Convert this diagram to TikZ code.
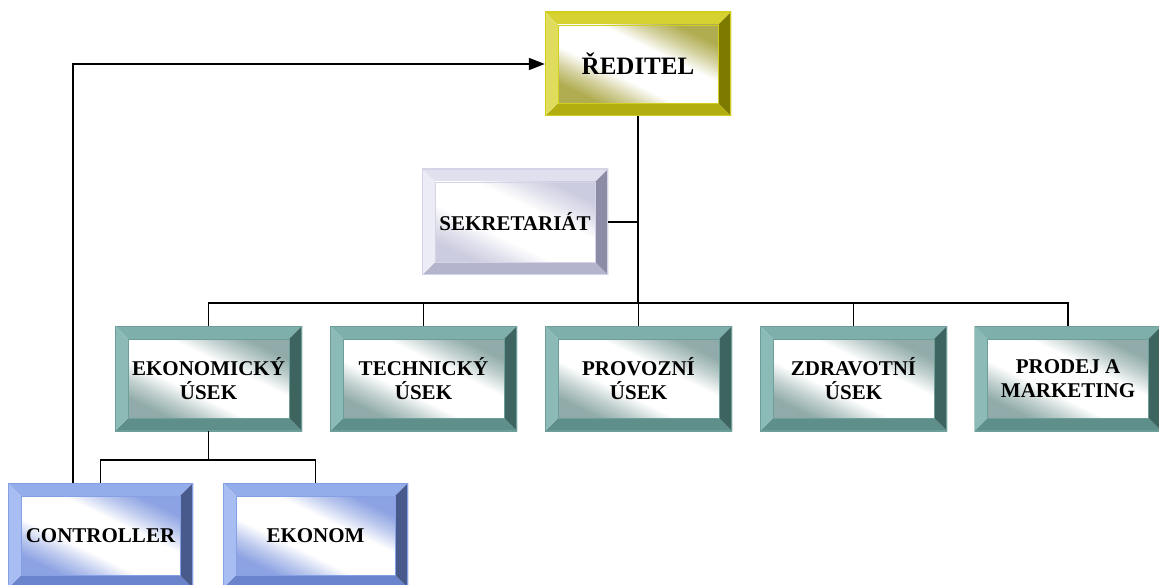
\documentclass[tikz,border=0pt]{standalone}
\usepackage{fontspec}
\setmainfont{Liberation Serif}
\usetikzlibrary{arrows.meta}
% yellow
\definecolor{yT}{HTML}{D6D232}\definecolor{yL}{HTML}{E0DD5C}\definecolor{yR}{HTML}{7E7A00}\definecolor{yB}{HTML}{B2AE10}\definecolor{yG}{HTML}{B0AC50}\definecolor{yO}{HTML}{D2CE20}
% teal
\definecolor{tT}{HTML}{7EAFAB}\definecolor{tL}{HTML}{8CBAB6}\definecolor{tR}{HTML}{3E6460}\definecolor{tB}{HTML}{5E8F8B}\definecolor{tG}{HTML}{90ABA9}\definecolor{tO}{HTML}{6E9E9A}
% blue
\definecolor{bT}{HTML}{93ACEA}\definecolor{bL}{HTML}{A8BDF2}\definecolor{bR}{HTML}{485A8C}\definecolor{bB}{HTML}{6A84CC}\definecolor{bG}{HTML}{8CA2E2}\definecolor{bO}{HTML}{85A0E4}
% lavender
\definecolor{lT}{HTML}{E0E0EE}\definecolor{lL}{HTML}{ECECF6}\definecolor{lR}{HTML}{8C8CA6}\definecolor{lB}{HTML}{B4B4CC}\definecolor{lG}{HTML}{CCCCE0}\definecolor{lO}{HTML}{D4D4E6}
\newcommand\mkbevshade[1]{%
  \pgfdeclarehorizontalshading{#1sh}{100bp}{color(0bp)=(#1G); color(25bp)=(#1G); color(33bp)=(#1G!55!white); color(41bp)=(white); color(59bp)=(white); color(67bp)=(#1G!55!white); color(75bp)=(#1G); color(100bp)=(#1G)}}
\mkbevshade{y}\mkbevshade{t}\mkbevshade{b}\mkbevshade{l}
\tikzset{
  bevelbox/.style={rectangle, minimum width=187pt, minimum height=105pt, inner sep=0pt,
    align=center, text=black, font=\fontsize{21}{24}\selectfont\bfseries,
    path picture={
      \coordinate (@nw) at (path picture bounding box.north west);
      \coordinate (@se) at (path picture bounding box.south east);
      \coordinate (@ne) at (@se |- @nw);
      \coordinate (@sw) at (@nw |- @se);
      \fill[#1T] (@nw) -- (@ne) -- ([xshift=-13pt,yshift=-13pt]@ne) -- ([xshift=13pt,yshift=-13pt]@nw) -- cycle;
      \fill[#1B] (@sw) -- (@se) -- ([xshift=-13pt,yshift=13pt]@se) -- ([xshift=13pt,yshift=13pt]@sw) -- cycle;
      \fill[#1L] (@nw) -- (@sw) -- ([xshift=13pt,yshift=13pt]@sw) -- ([xshift=13pt,yshift=-13pt]@nw) -- cycle;
      \fill[#1R] (@ne) -- (@se) -- ([xshift=-13pt,yshift=13pt]@se) -- ([xshift=-13pt,yshift=-13pt]@ne) -- cycle;
      \shade[shading=#1sh, shading angle=64]
        ([xshift=13pt,yshift=-13pt]@nw) rectangle ([xshift=-13pt,yshift=13pt]@se);
      \draw[#1O, line width=0.8pt] ([xshift=13pt,yshift=-13pt]@nw) rectangle ([xshift=-13pt,yshift=13pt]@se);
      \draw[#1O, line width=1.6pt] (@nw) rectangle (@se);
    }},
  link/.style={draw=black, line width=1.8pt},
  trunk/.style={draw=black, line width=2.6pt},
}
\begin{document}
\begin{tikzpicture}[x=1pt, y=-1pt]
\useasboundingbox (0,0) rectangle (1159,585);
\node[bevelbox=y, minimum width=186pt, minimum height=104pt, font=\fontsize{25}{28}\selectfont\bfseries] (red) at (638,64) {ŘEDITEL};
\node[bevelbox=l, minimum width=186pt, minimum height=106pt] (sek) at (515,222) {SEKRETARIÁT};
\node[bevelbox=t] (eko) at (208.5,378.5) {EKONOMICKÝ\\ÚSEK};
\node[bevelbox=t] (tech) at (423.5,378.5) {TECHNICKÝ\\ÚSEK};
\node[bevelbox=t] (prov) at (638.5,378.5) {PROVOZNÍ\\ÚSEK};
\node[bevelbox=t] (zdr) at (853.5,378.5) {ZDRAVOTNÍ\\ÚSEK};
\node[bevelbox=t] (prod) at (1068,378.5) {PRODEJ A\\MARKETING};
\node[bevelbox=b, minimum width=185pt] (con) at (100.5,535.5) {CONTROLLER};
\node[bevelbox=b, minimum width=185pt] (ekn) at (315.5,535.5) {EKONOM};
% connectors
\coordinate (bus) at (638,303);
\draw[trunk] (red.south) -- (bus);
\draw[link] (sek.east) -- (sek.east -| bus);
\foreach \n in {eko,tech,prov,zdr,prod} \draw[link] (\n.north) |- (bus);
\coordinate (bus2) at (208.5,460);
\draw[link] (eko.south) -- (bus2);
\draw[link] (con.north) |- (bus2);
\draw[link] (ekn.north) |- (bus2);
\draw[link, -{Triangle[length=16pt,width=12pt]}] ([xshift=-27.5pt]con.north) |- (red.west);
\end{tikzpicture}
\end{document}
